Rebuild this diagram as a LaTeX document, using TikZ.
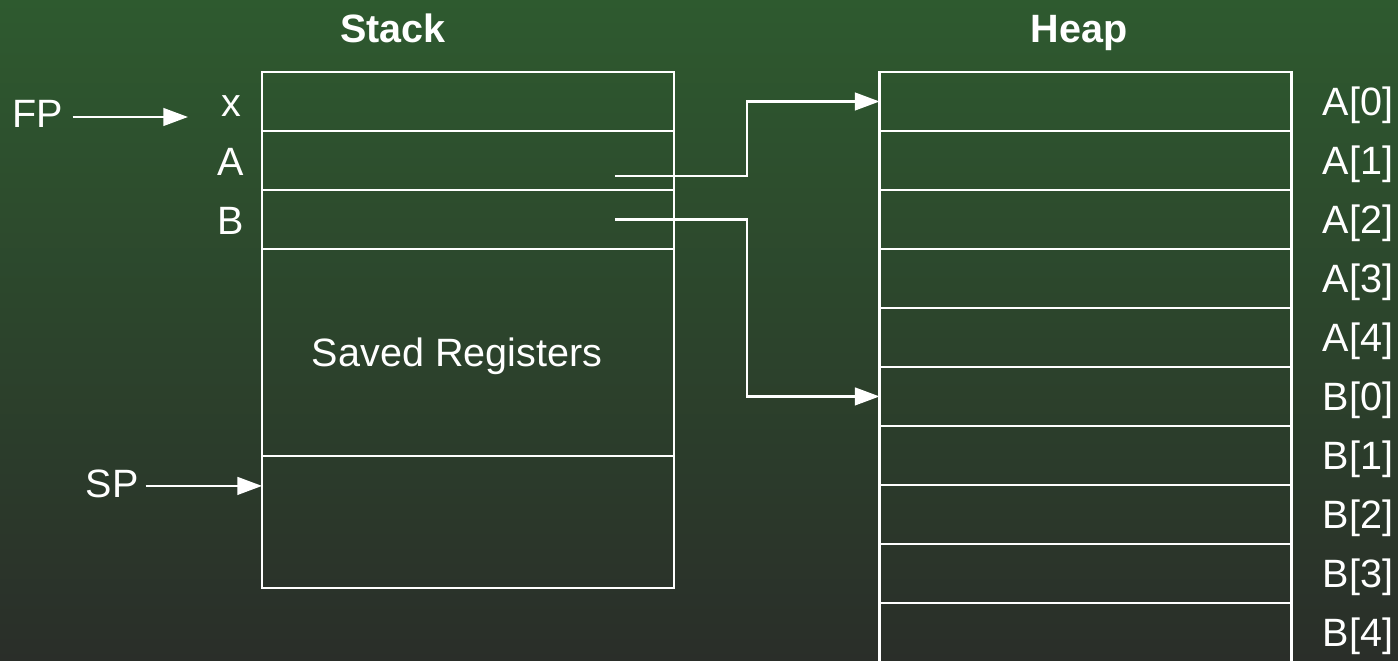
\documentclass[tikz,border=0pt]{standalone}
\usepackage{fontspec}
\setmainfont{Liberation Sans}
\usepackage{xcolor}
\usetikzlibrary{arrows.meta}
\usetikzlibrary{positioning}
\definecolor{bgtop}{RGB}{46,90,47}
\definecolor{bgbot}{RGB}{42,46,41}
\tikzset{
    cell/.style = {draw=white, line width=1.4pt, minimum width=8.24cm, minimum height=1.18cm, inner sep=0pt, outer sep=0pt},
    lbl/.style = {text=white, inner sep=0pt, anchor=base, font=\fontsize{22.5}{27}\selectfont},
    title/.style = {lbl, font=\fontsize{22.5}{27}\selectfont\bfseries},
    ptr/.style = {draw=white, line width=1.4pt, -{Triangle[length=14pt, width=10pt]}}
}

\begin{document}
\begin{tikzpicture}
            [x=0.02cm, y=-0.02cm]

            \useasboundingbox (0,0) rectangle (1398,661);
            \shade[top color=bgtop, bottom color=bgbot] (0,0) rectangle (1398,661);
            \clip (0,0) rectangle (1398,661);

            % stack frame
            \node[title] (stk) at (393,43) {Stack};
            \node[cell] (sx) at (468,101.5) {};
            \node[cell, below=0pt of sx] (sa) {};
            \node[cell, below=0pt of sa] (sb) {};
            \node[cell, below=0pt of sb, minimum height=4.14cm] (sregs) {};
            \node[cell, below=0pt of sregs, minimum height=2.64cm] (ssp) {};
            \node[lbl] (regs) at ([xshift=-0.22cm, yshift=-0.28cm]sregs) {Saved Registers};

            \node[lbl] (lx) at ([xshift=-0.62cm, yshift=-0.3cm]sx.west) {x};
            \node[lbl] (la) at ([xshift=-0.62cm, yshift=-0.3cm]sa.west) {A};
            \node[lbl] (lb) at ([xshift=-0.62cm, yshift=-0.3cm]sb.west) {B};

            % heap
            \node[title] (hp) at (1079,43) {Heap};
            \node[cell] (h0) at (1085.5,101.5) {};
            \foreach \i [count=\j from 0] in {1,...,9}
                \node[cell, below=0pt of h\j] (h\i) {};
            \foreach \t [count=\i from 0] in {A[0],A[1],A[2],A[3],A[4],B[0],B[1],B[2],B[3],B[4]}
                \node[lbl, anchor=base west] (hl\i) at ([xshift=0.62cm, yshift=-0.28cm]h\i.east) {\t};

            % frame and stack pointers
            \node[lbl] (fp) at (38,128) {FP};
            \coordinate (fptip) at (188,117);
            \draw[ptr] ([xshift=0.18cm]fptip -| fp.east) -- (fptip);

            \node[lbl] (sp) at (112,498) {SP};
            \coordinate (sptip) at ([yshift=0.72cm]ssp.west);
            \draw[ptr] ([xshift=0.14cm]sptip -| sp.east) -- (sptip);

            % array pointers
            \coordinate (pa) at ([xshift=2.94cm, yshift=-0.31cm]sa.center);
            \coordinate (pb) at ([xshift=2.94cm]sb.center);
            \draw[ptr] (pa) -- ++(132,0) |- (h0.west);
            \draw[ptr] (pb) -- ++(132,0) |- (h5.west);
        \end{tikzpicture}
\end{document}
